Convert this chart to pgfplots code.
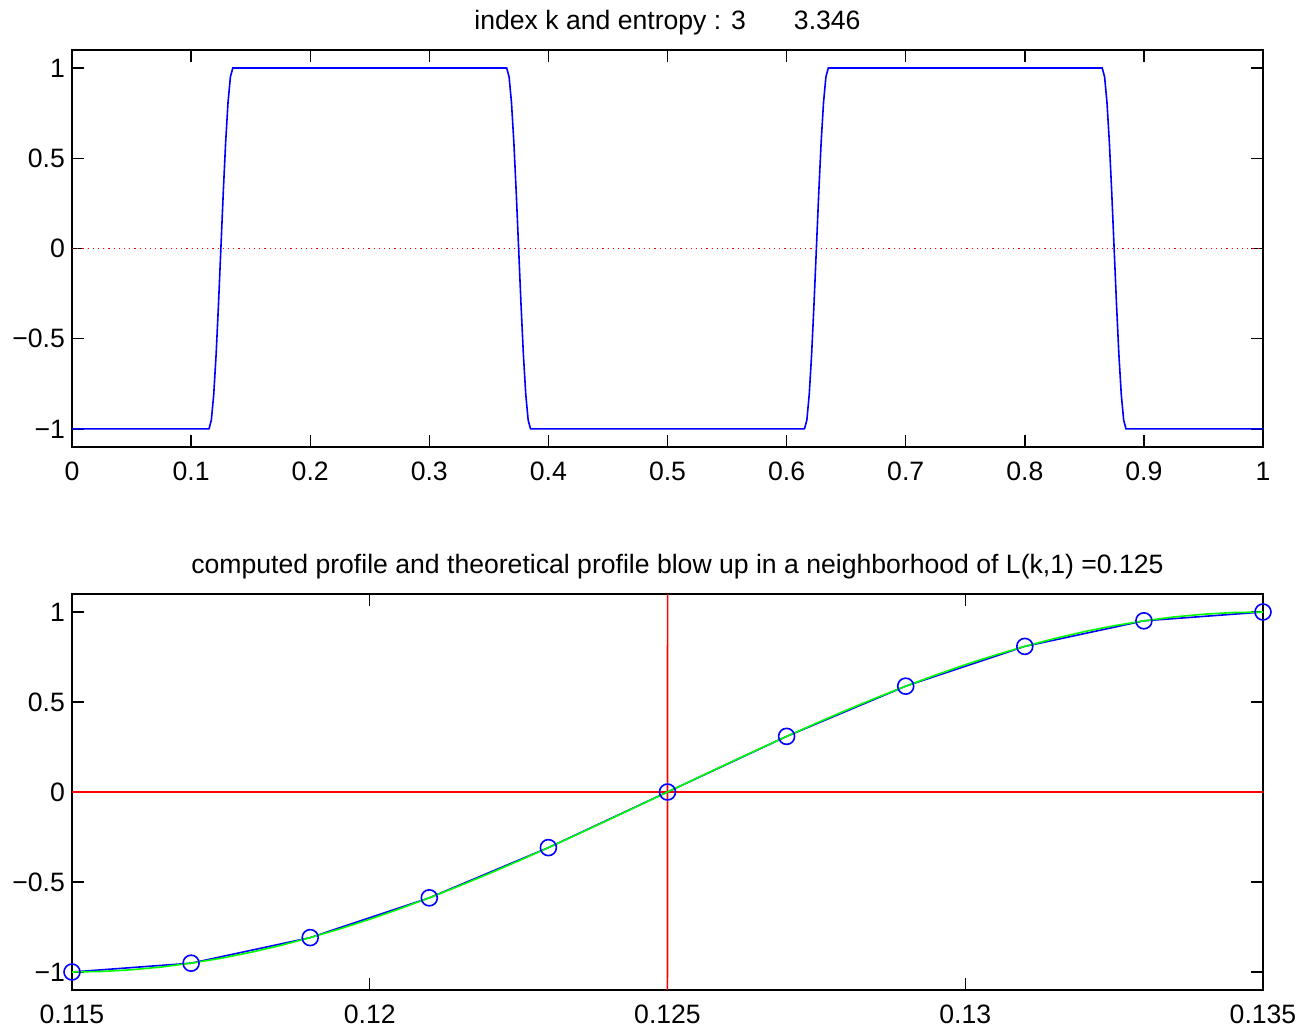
\documentclass[border=0pt]{standalone}
\usepackage{fontspec}
\setmainfont{Liberation Sans}
\usepackage{pgfplots}
\pgfplotsset{compat=1.18}
\definecolor{mblue}{rgb}{0,0,1}
\definecolor{mgreen}{rgb}{0,1,0}
\definecolor{mred}{rgb}{1,0,0}
\pgfplotsset{
  matlab/.style={
    scale only axis, width=595.5pt, anchor=south west,
    tick align=inside, major tick length=6pt,
    axis line style={line width=0.7pt},
    every tick/.style={black, line width=0.7pt},
    ticklabel style={font=\fontsize{13.3}{16}\selectfont},
    xticklabel style={yshift=-4pt},
    title style={font=\fontsize{13.3}{16}\selectfont, yshift=-2pt},
    ymin=-1.1, ymax=1.1,
    ytick={-1,-0.5,0,0.5,1},
    yticklabels={−1,−0.5,0,0.5,1},
  },
}
\begin{document}
\begin{tikzpicture}
\useasboundingbox (0,0) rectangle (653.5pt,-518pt);

% top: the whole profile
\begin{axis}[matlab, at={(36pt,-223.5pt)}, height=198.5pt,
    xmin=0, xmax=1,
    xtick={0,0.1,0.2,0.3,0.4,0.5,0.6,0.7,0.8,0.9,1},
    xticklabels={0,0.1,0.2,0.3,0.4,0.5,0.6,0.7,0.8,0.9,1},
    title={index k and entropy : 3\hspace{24pt}3.346}]
\addplot[mred, dotted, line width=0.6pt] coordinates {(0,0) (1,0)};
\addplot[mblue, line width=0.8pt] coordinates {
  (0,-1) (0.115,-1) (0.117,-0.951) (0.119,-0.809) (0.121,-0.588) (0.123,-0.309)
  (0.125,0) (0.127,0.309) (0.129,0.588) (0.131,0.809) (0.133,0.951) (0.135,1)
  (0.365,1) (0.367,0.951) (0.369,0.809) (0.371,0.588) (0.373,0.309) (0.375,0)
  (0.377,-0.309) (0.379,-0.588) (0.381,-0.809) (0.383,-0.951) (0.385,-1)
  (0.615,-1) (0.617,-0.951) (0.619,-0.809) (0.621,-0.588) (0.623,-0.309)
  (0.625,0) (0.627,0.309) (0.629,0.588) (0.631,0.809) (0.633,0.951) (0.635,1)
  (0.865,1) (0.867,0.951) (0.869,0.809) (0.871,0.588) (0.873,0.309) (0.875,0)
  (0.877,-0.309) (0.879,-0.588) (0.881,-0.809) (0.883,-0.951) (0.885,-1) (1,-1)};
\end{axis}

% bottom: blow up around L(k,1)
\begin{axis}[matlab, at={(36pt,-495pt)}, height=198pt,
    xmin=0.115, xmax=0.135,
    xtick={0.115,0.12,0.125,0.13,0.135},
    xticklabels={0.115,0.12,0.125,0.13,0.135},
    title style={xshift=5pt},
    title={computed profile and theoretical profile blow up in a neighborhood of L(k,1) =0.125}]
\addplot[mred, line width=0.8pt] coordinates {(0.115,0) (0.135,0)};
\addplot[mred, line width=0.8pt] coordinates {(0.124999,-1.1) (0.125001,1.1)};
\addplot[mblue, line width=0.8pt, mark=o, mark size=4pt, mark options={line width=0.8pt}] coordinates {
  (0.115,-1) (0.117,-0.951) (0.119,-0.809) (0.121,-0.588) (0.123,-0.309)
  (0.125,0) (0.127,0.309) (0.129,0.588) (0.131,0.809) (0.133,0.951) (0.135,1)};
\addplot[mgreen, line width=0.8pt] coordinates {
  (0.1150,-1) (0.1155,-0.99692) (0.1160,-0.98769) (0.1165,-0.97237) (0.1170,-0.95106)
  (0.1175,-0.92388) (0.1180,-0.89101) (0.1185,-0.85264) (0.1190,-0.80902) (0.1195,-0.76041)
  (0.1200,-0.70711) (0.1205,-0.64945) (0.1210,-0.58779) (0.1215,-0.52250) (0.1220,-0.45399)
  (0.1225,-0.38268) (0.1230,-0.30902) (0.1235,-0.23345) (0.1240,-0.15643) (0.1245,-0.07846)
  (0.1250,0) (0.1255,0.07846) (0.1260,0.15643) (0.1265,0.23345) (0.1270,0.30902)
  (0.1275,0.38268) (0.1280,0.45399) (0.1285,0.52250) (0.1290,0.58779) (0.1295,0.64945)
  (0.1300,0.70711) (0.1305,0.76041) (0.1310,0.80902) (0.1315,0.85264) (0.1320,0.89101)
  (0.1325,0.92388) (0.1330,0.95106) (0.1335,0.97237) (0.1340,0.98769) (0.1345,0.99692)
  (0.1350,1)};
\end{axis}
\end{tikzpicture}
\end{document}
